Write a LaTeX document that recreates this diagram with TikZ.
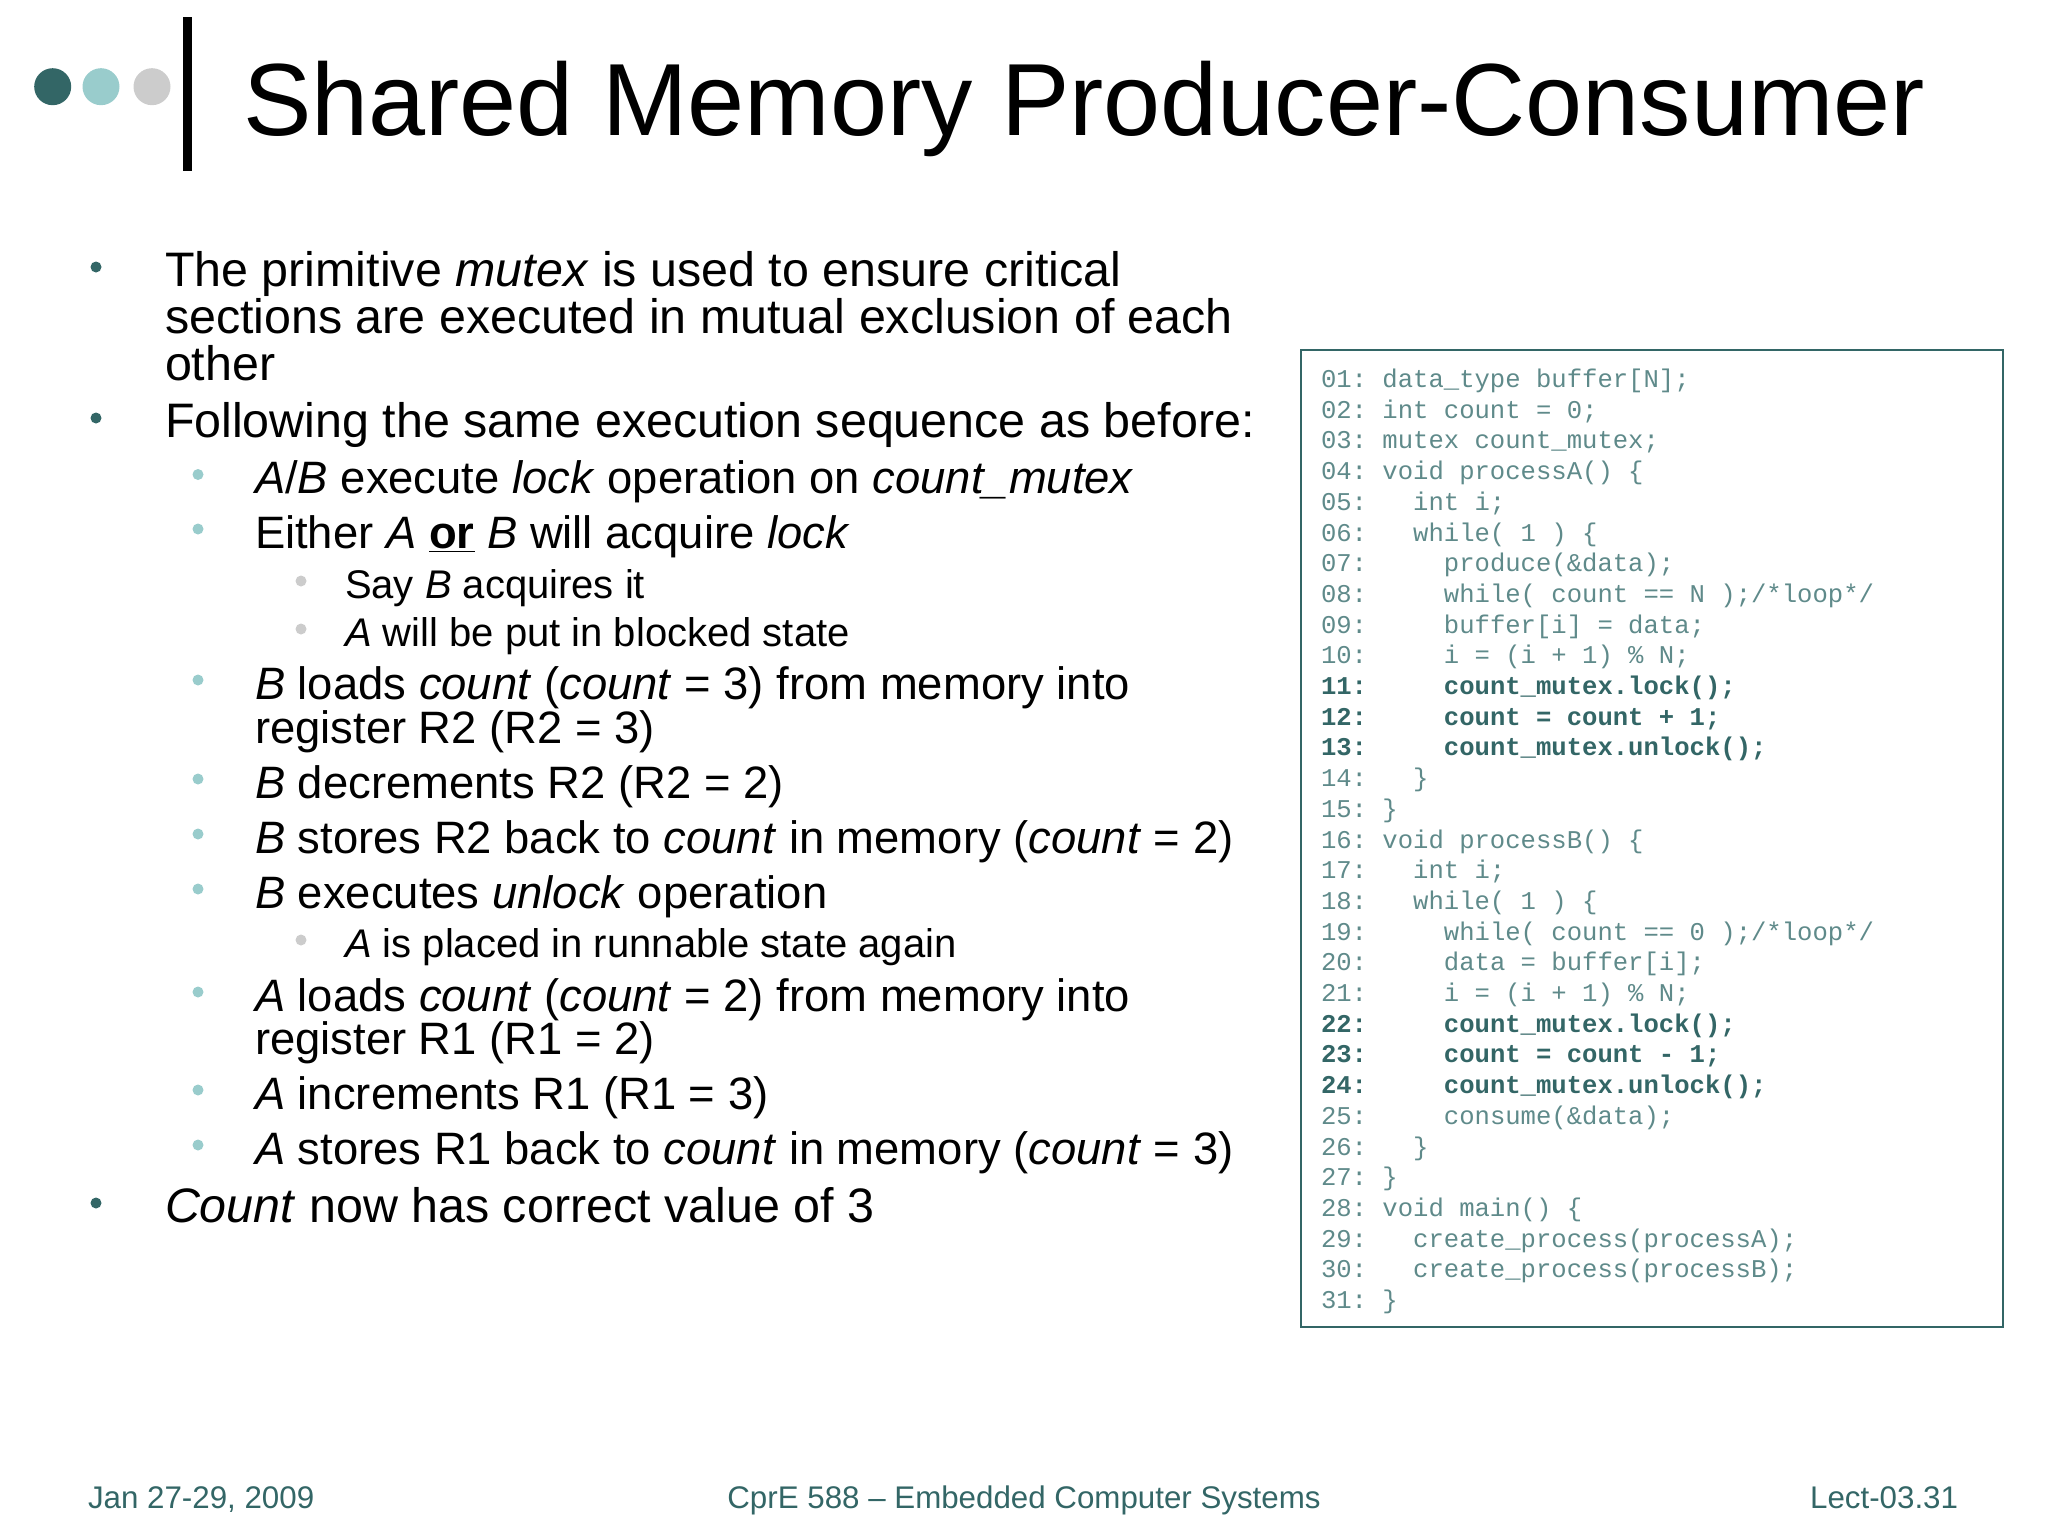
\documentclass[tikz,border=0pt]{standalone}
\usepackage{fontspec}
\setmainfont{Liberation Sans}
\setmonofont{Liberation Mono}
\definecolor{teal1}{HTML}{336666}
\definecolor{teal2}{HTML}{99CCCC}
\definecolor{gray1}{HTML}{CCCCCC}
\definecolor{codec}{HTML}{5F8A8A}
\tikzset{
 txt/.style={anchor=base west,inner sep=0pt,outer sep=0pt,text=black},
 lone/.style={txt,font=\fontsize{24.2}{24}\selectfont},
 ltwo/.style={txt,font=\fontsize{22.7}{22}\selectfont},
 lthree/.style={txt,font=\fontsize{20}{20}\selectfont},
 foot/.style={txt,text=teal1,font=\fontsize{15.65}{16}\selectfont},
 code/.style={txt,text=codec,font=\fontsize{12.8}{13}\ttfamily},
 codeb/.style={txt,text=teal1,font=\fontsize{12.8}{13}\ttfamily\bfseries},
 dot/.style={circle,inner sep=0pt,outer sep=0pt,minimum size=5.5pt},
 dotone/.style={dot,fill=teal1},
 dottwo/.style={dot,fill=teal2},
 dotthree/.style={dot,fill=gray1},
}
\newcommand{\cl}[2]{\node[code] (c#1) at (1321,{387.5+30.7*(#1-1)}) {#2};}
\newcommand{\clb}[2]{\node[codeb] (c#1) at (1321,{387.5+30.7*(#1-1)}) {#2};}
\newcommand{\bone}[3]{\node[dotone] (b#1) at (96,#2-19) {}; \node[lone] (t#1) at (165,#2) {#3};}
\newcommand{\btwo}[3]{\node[dottwo] (b#1) at (198,#2-19) {}; \node[ltwo] (t#1) at (255,#2) {#3};}
\newcommand{\bthree}[3]{\node[dotthree] (b#1) at (301,#2-17) {}; \node[lthree] (t#1) at (345,#2) {#3};}
\begin{document}
\begin{tikzpicture}[x=0.5pt,y=-0.5pt]
\useasboundingbox (0,0) rectangle (2048,1536);
\node[circle,fill=teal1,inner sep=0pt,minimum size=18.5pt] (d1) at (52.7,86.7) {};
\node[circle,fill=teal2,inner sep=0pt,minimum size=18.5pt] (d2) at (101,86.7) {};
\node[circle,fill=gray1,inner sep=0pt,minimum size=18.5pt] (d3) at (152,86.7) {};
\fill[black] (183,17) rectangle (192,171);
\node[txt,font=\fontsize{51.3}{51}\selectfont] (title) at (243,135) {Shared Memory Producer-Consumer};
\bone{1}{286}{The primitive \textit{mutex} is used to ensure critical}
\node[lone] (t1b) at (165,333) {sections are executed in mutual exclusion of each};
\node[lone] (t1c) at (165,380) {other};
\bone{2}{437}{Following the same execution sequence as before:}
\btwo{3}{493.5}{\textit{A}/\textit{B} execute \textit{lock} operation on \textit{count\_mutex}}
\btwo{4}{548}{Either \textit{A} \underline{\textbf{or}} \textit{B} will acquire \textit{lock}}
\bthree{5}{598}{Say \textit{B} acquires it}
\bthree{6}{646}{\textit{A} will be put in blocked state}
\btwo{7}{699}{\textit{B} loads \textit{count} (\textit{count} = 3) from memory into}
\node[ltwo] (t7b) at (255,743) {register R2 (R2 = 3)};
\btwo{8}{798}{\textit{B} decrements R2 (R2 = 2)}
\btwo{9}{853}{\textit{B} stores R2 back to \textit{count} in memory (\textit{count} = 2)}
\btwo{10}{908}{\textit{B} executes \textit{unlock} operation}
\bthree{11}{957}{\textit{A} is placed in runnable state again}
\btwo{12}{1011}{\textit{A} loads \textit{count} (\textit{count} = 2) from memory into}
\node[ltwo] (t12b) at (255,1054) {register R1 (R1 = 2)};
\btwo{13}{1109}{\textit{A} increments R1 (R1 = 3)}
\btwo{14}{1164}{\textit{A} stores R1 back to \textit{count} in memory (\textit{count} = 3)}
\bone{15}{1222}{\textit{Count} now has correct value of 3}
\draw[teal1,line width=1.2pt] (1301,350) rectangle (2003,1327);
\cl{1}{01: data\_type buffer[N];}
\cl{2}{02: int count = 0;}
\cl{3}{03: mutex count\_mutex;}
\cl{4}{04: void processA() \{}
\cl{5}{05:~~~int i;}
\cl{6}{06:~~~while( 1 ) \{}
\cl{7}{07:~~~~~produce(\&data);}
\cl{8}{08:~~~~~while( count == N );/*loop*/}
\cl{9}{09:~~~~~buffer[i] = data;}
\cl{10}{10:~~~~~i = (i + 1) \% N;}
\clb{11}{11:~~~~~count\_mutex.lock();}
\clb{12}{12:~~~~~count = count + 1;}
\clb{13}{13:~~~~~count\_mutex.unlock();}
\cl{14}{14:~~~\}}
\cl{15}{15: \}}
\cl{16}{16: void processB() \{}
\cl{17}{17:~~~int i;}
\cl{18}{18:~~~while( 1 ) \{}
\cl{19}{19:~~~~~while( count == 0 );/*loop*/}
\cl{20}{20:~~~~~data = buffer[i];}
\cl{21}{21:~~~~~i = (i + 1) \% N;}
\clb{22}{22:~~~~~count\_mutex.lock();}
\clb{23}{23:~~~~~count = count - 1;}
\clb{24}{24:~~~~~count\_mutex.unlock();}
\cl{25}{25:~~~~~consume(\&data);}
\cl{26}{26:~~~\}}
\cl{27}{27: \}}
\cl{28}{28: void main() \{}
\cl{29}{29:~~~create\_process(processA);}
\cl{30}{30:~~~create\_process(processB);}
\cl{31}{31: \}}
\node[foot] (f1) at (88,1508) {Jan 27-29, 2009};
\node[foot,anchor=base] (f2) at (1024,1508) {CprE 588 – Embedded Computer Systems};
\node[foot,anchor=base east] (f3) at (1958,1508) {Lect-03.31};
\end{tikzpicture}
\end{document}
